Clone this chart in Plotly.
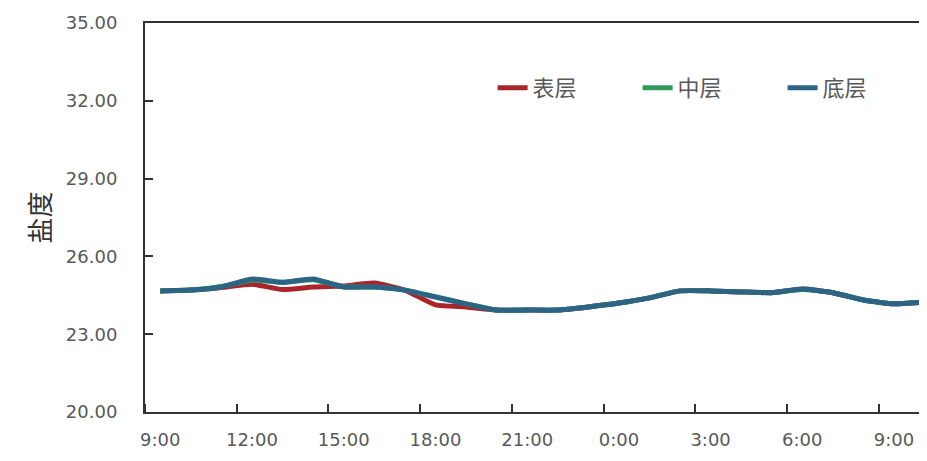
import plotly.graph_objects as go

# hourly readings, 9:00 day 1 to 10:00 day 2
hours = ["9:00", "10:00", "11:00", "12:00", "13:00", "14:00", "15:00", "16:00",
         "17:00", "18:00", "19:00", "20:00", "21:00", "22:00", "23:00", "0:00",
         "1:00", "2:00", "3:00", "4:00", "5:00", "6:00", "7:00", "8:00",
         "9:00", "10:00"]

surface = [24.67, 24.70, 24.80, 24.93, 24.72, 24.82, 24.86, 24.97, 24.70, 24.13,
           24.05, 23.93, 23.93, 23.93, 24.05, 24.20, 24.40, 24.67, 24.67, 24.63,
           24.60, 24.74, 24.60, 24.32, 24.17, 24.24]
middle = [24.67, 24.70, 24.84, 25.08, 25.00, 25.10, 24.83, 24.82, 24.70, 24.45,
          24.17, 23.93, 23.93, 23.93, 24.05, 24.20, 24.40, 24.67, 24.67, 24.63,
          24.60, 24.72, 24.60, 24.32, 24.17, 24.24]
bottom = [24.67, 24.70, 24.82, 25.13, 25.00, 25.13, 24.82, 24.82, 24.70, 24.43,
          24.17, 23.93, 23.93, 23.93, 24.05, 24.20, 24.40, 24.67, 24.67, 24.63,
          24.60, 24.74, 24.60, 24.32, 24.17, 24.24]

series = [("表层", surface, "#A8262B"), ("中层", middle, "#2E9A5C"), ("底层", bottom, "#2C6486")]

x = list(range(len(hours)))
tick_pos = x[::3]
tick_txt = hours[::3]

fig = go.Figure()
for name, vals, color in series:
    fig.add_trace(go.Scatter(
        x=x, y=vals, name=name, mode="lines",
        line=dict(color=color, width=5, shape="spline", smoothing=0.5),
    ))

axis_font = dict(family="DejaVu Sans", size=18, color="#595959")

fig.update_layout(
    width=927, height=461,
    margin=dict(l=137, r=0, t=15, b=57),
    paper_bgcolor="white", plot_bgcolor="white",
    showlegend=True,
    legend=dict(
        orientation="h", x=0.44, xanchor="left", y=0.833, yanchor="middle",
        font=dict(family="Noto Sans CJK SC", size=22, color="#595959"),
        entrywidth=100, bgcolor="rgba(0,0,0,0)",
    ),
    xaxis=dict(
        range=[-0.5, 25.34], tickmode="array", tickvals=tick_pos, ticktext=tick_txt,
        ticks="", ticklabelstandoff=10, tickfont=axis_font,
        showline=True, linecolor="#333333", linewidth=2, mirror=True,
        showgrid=False, zeroline=False,
        minor=dict(ticks="inside", tick0=-0.5, dtick=3, ticklen=8,
                   tickcolor="#333333", tickwidth=1.5, showgrid=False),
    ),
    yaxis=dict(
        range=[20, 35], tickmode="array", tickvals=[20, 23, 26, 29, 32, 35],
        tickformat=".2f", ticks="inside", ticklen=8, tickcolor="#333333", tickwidth=1.5,
        ticklabelstandoff=22, tickfont=axis_font,
        showline=True, linecolor="#333333", linewidth=2,
        showgrid=False, zeroline=False,
        title=dict(text="盐度", standoff=8,
                   font=dict(family="Noto Sans CJK SC", size=26, color="#333333")),
        automargin=False,
    ),
)

fig.write_html("out.html")
